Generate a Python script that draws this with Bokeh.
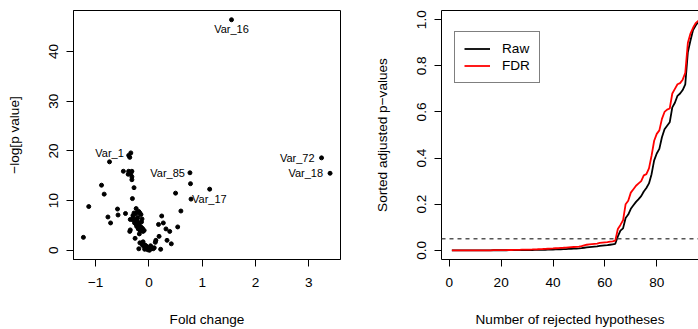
from bokeh.plotting import figure
from bokeh.models import (Range1d, FixedTicker, ColumnDataSource, Span, Legend,
                          LegendItem, LinearAxis, PrintfTickFormatter)
from bokeh.layouts import row
from bokeh.core.properties import value
from bokeh.embed import file_html
from bokeh.resources import INLINE

FONT = "Liberation Sans"

# ---------------- data: volcano plot ----------------
fold_change = [
    1.55, 3.24, 3.40, 0.77, 0.79, -0.34,
    0.78, 1.14, 0.50, 0.60, 0.54, 0.24, 0.27, 0.18, 0.32, 0.39, 0.34, 0.42, 0.19, 0.13, 0.12, 0.22,
    -0.38, -0.36, -0.74, -0.48, -0.38, -0.32, -0.34, -0.39, -0.32, -0.32, -0.28, -0.31, -0.89, -0.84, -1.13, -1.23,
    -0.59, -0.58, -0.77, -0.72, -0.44, -0.24, -0.28, -0.22, -0.17, -0.15, -0.30, -0.35, -0.30, -0.25, -0.22, -0.20,
    -0.24, -0.18, -0.15, -0.12, -0.20, -0.16, -0.11, -0.35, -0.36, -0.26, -0.17, -0.19, -0.14, -0.10, -0.07, -0.05,
    -0.03, 0.00, 0.02, 0.05, -0.08, 0.08, -0.02, 0.01, -0.12, -0.21, -0.14, -0.27, -0.18, -0.09, 0.03, -0.04,
    -0.19, -0.13, -0.08, 0.10, -0.23, -0.17, -0.06, 0.04, -0.01, -0.26, -0.30, -0.11,
]
neg_log_p = [
    46.4, 18.6, 15.5, 15.6, 10.3, 19.6,
    13.4, 12.3, 11.5, 7.9, 4.7, 6.9, 5.5, 5.2, 4.3, 3.8, 2.0, 1.3, 2.8, 2.0, 1.6, 0.2,
    19.1, 18.7, 17.8, 15.9, 15.9, 15.9, 15.4, 15.3, 14.8, 14.2, 12.6, 10.4, 13.1, 11.3, 8.8, 2.6,
    8.3, 7.1, 6.7, 5.5, 7.4, 8.4, 7.5, 7.6, 7.5, 7.2, 7.0, 6.2, 6.1, 6.2, 6.0, 5.5,
    5.2, 5.0, 4.7, 4.4, 4.3, 3.9, 3.8, 4.1, 3.8, 2.4, 1.5, 0.3, 1.4, 1.2, 1.0, 0.8,
    0.6, 0.4, 0.2, 0.4, 0.6, 0.3, 0.1, 0.0, 1.0, 6.6, 5.7, 5.5, 3.3, 4.0, 0.9, 0.3,
    7.8, 6.3, 0.2, 0.5, 4.8, 4.1, 0.9, 0.7, 0.5, 7.3, 6.5, 1.7,
]
label_names = ["Var_16", "Var_72", "Var_18", "Var_85", "Var_17", "Var_1"]
label_index = [0, 1, 2, 3, 4, 5]

volcano_xticks = [-1, 0, 1, 2, 3]
volcano_yticks = [0, 10, 20, 30, 40]

# ---------------- data: adjusted p-values ----------------
raw_p = [
    0.0000, 0.0000, 0.0000, 0.0000, 0.0000, 0.0000, 0.0000, 0.0000, 0.0000, 0.0000,
    0.0000, 0.0000, 0.0000, 0.0000, 0.0000, 0.0000, 0.0001, 0.0001, 0.0001, 0.0001,
    0.0002, 0.0002, 0.0003, 0.0003, 0.0004, 0.0005, 0.0006, 0.0007, 0.0008, 0.0009,
    0.0010, 0.0012, 0.0014, 0.0016, 0.0018, 0.0020, 0.0023, 0.0026, 0.0029, 0.0032,
    0.0036, 0.0040, 0.0044, 0.0048, 0.0053, 0.0058, 0.0063, 0.0068, 0.0074, 0.0080,
    0.0090, 0.0110, 0.0130, 0.0140, 0.0150, 0.0160, 0.0170, 0.0190, 0.0200, 0.0210,
    0.0220, 0.0240, 0.0260, 0.0280,
    0.060, 0.085, 0.095, 0.140, 0.155, 0.180, 0.195, 0.210, 0.222, 0.235,
    0.255, 0.270, 0.290, 0.330, 0.390, 0.420, 0.440, 0.490, 0.525, 0.540,
    0.555, 0.620, 0.640, 0.670, 0.680, 0.695, 0.720, 0.860, 0.910, 0.955,
    0.975, 0.990, 0.993, 0.996, 0.998, 1.000,
]
fdr_p = [
    0.0000, 0.0000, 0.0000, 0.0000, 0.0000, 0.0000, 0.0000, 0.0000, 0.0000, 0.0000,
    0.0000, 0.0000, 0.0000, 0.0000, 0.0000, 0.0000, 0.0005, 0.0005, 0.0005, 0.0005,
    0.0008, 0.0009, 0.0011, 0.0012, 0.0015, 0.0018, 0.0021, 0.0024, 0.0027, 0.0030,
    0.0032, 0.0036, 0.0041, 0.0045, 0.0050, 0.0055, 0.0061, 0.0067, 0.0073, 0.0080,
    0.0088, 0.0095, 0.0102, 0.0109, 0.0117, 0.0126, 0.0134, 0.0142, 0.0150, 0.0160,
    0.0176, 0.0210, 0.0240, 0.0255, 0.0270, 0.0280, 0.0290, 0.0320, 0.0330, 0.0340,
    0.0350, 0.0375, 0.0390, 0.0420,
    0.092, 0.110, 0.130, 0.200, 0.215, 0.250, 0.265, 0.280, 0.290, 0.300,
    0.325, 0.330, 0.355, 0.410, 0.475, 0.505, 0.520, 0.570, 0.600, 0.610,
    0.615, 0.680, 0.700, 0.720, 0.725, 0.740, 0.770, 0.900, 0.940, 0.965,
    0.985, 0.995, 0.996, 0.997, 0.998, 1.000,
]
n_rejected = list(range(1, len(raw_p) + 1))
alpha_level = 0.05

pv_xticks = [0, 20, 40, 60, 80, 100]
pv_yticks = [0.0, 0.2, 0.4, 0.6, 0.8, 1.0]

TICK_FS = "13.6px"
TITLE_FS = "13.6px"


def style_axis(ax, label_standoff, title_standoff):
    ax.major_tick_in = 0
    ax.major_tick_out = 7
    ax.minor_tick_line_color = None
    ax.major_tick_line_color = "black"
    ax.axis_line_color = "black"
    ax.major_label_text_font = FONT
    ax.major_label_text_font_size = TICK_FS
    ax.major_label_text_color = "black"
    ax.axis_label_text_font = FONT
    ax.axis_label_text_font_size = TITLE_FS
    ax.axis_label_text_font_style = "normal"
    ax.axis_label_text_color = "black"
    ax.major_label_standoff = label_standoff
    ax.axis_label_standoff = title_standoff


# ---------------- left: volcano ----------------
p1 = figure(width=368, height=329, output_backend="svg", toolbar_location=None,
            x_range=Range1d(-1.416, 3.596), y_range=Range1d(-1.856, 48.26),
            min_border_left=73, min_border_right=28, min_border_top=10, min_border_bottom=70,
            x_axis_label="Fold change", y_axis_label="\u2212log[p value]")
p1.grid.visible = False
p1.outline_line_color = "black"
p1.outline_line_width = 1
p1.background_fill_color = "white"
p1.border_fill_color = "white"

p1.scatter(fold_change, neg_log_p, size=4, color="black", marker="circle")

lab_src = ColumnDataSource(dict(
    x=[fold_change[i] for i in label_index],
    y=[neg_log_p[i] for i in label_index],
    t=label_names,
    align=["center", "right", "right", "right", "left", "right"],
    dx=[0, -7, -7, -5, 1, -7],
    dy=[9, 0, 0, 0, 0, 0],
))
p1.text(x="x", y="y", text="t", source=lab_src, text_align="align",
        text_baseline="middle", x_offset="dx", y_offset="dy",
        text_font=value(FONT), text_font_size=value("11px"), text_color="black")

p1.xaxis.ticker = FixedTicker(ticks=volcano_xticks)
p1.xaxis.major_label_overrides = {-1: "\u22121"}
p1.yaxis.ticker = FixedTicker(ticks=volcano_yticks)
p1.yaxis.major_label_orientation = "parallel"
style_axis(p1.xaxis[0], 11, 22)
style_axis(p1.yaxis[0], 8, 25)

# ---------------- right: sorted adjusted p-values ----------------
p2 = figure(width=330, height=329, output_backend="svg", toolbar_location=None,
            x_range=Range1d(-3.0, 96.1), y_range=Range1d(-0.04, 1.04),
            min_border_left=73, min_border_right=0, min_border_top=10, min_border_bottom=70,
            x_axis_label="Number of rejected hypotheses",
            y_axis_label="Sorted adjusted p\u2212values")
p2.grid.visible = False
p2.outline_line_color = None
p2.background_fill_color = "white"
p2.border_fill_color = "white"

p2.add_layout(Span(location=alpha_level, dimension="width", line_color="#555555",
                   line_width=1.5, line_dash="4 4"))
r_raw = p2.line(n_rejected, raw_p, line_color="black", line_width=1.8)
r_fdr = p2.line(n_rejected, fdr_p, line_color="#FF0000", line_width=1.8)

p2.xaxis.ticker = FixedTicker(ticks=pv_xticks)
p2.yaxis.ticker = FixedTicker(ticks=pv_yticks)
p2.yaxis.formatter = PrintfTickFormatter(format="%.1f")
p2.yaxis.major_label_orientation = "parallel"
style_axis(p2.xaxis[0], 11, 22)
style_axis(p2.yaxis[0], 8, 25)

top_axis = LinearAxis(ticker=FixedTicker(ticks=[]), major_label_text_font_size="0px",
                      axis_line_color="black", major_tick_line_color=None,
                      minor_tick_line_color=None)
p2.add_layout(top_axis, "above")

legend = Legend(items=[LegendItem(label="Raw", renderers=[r_raw]),
                       LegendItem(label="FDR", renderers=[r_fdr])],
                location=(13, 176), border_line_color="black", border_line_width=1,
                background_fill_color="white", background_fill_alpha=1.0,
                padding=9, margin=0, spacing=2, glyph_width=26, glyph_height=15,
                label_height=15, label_standoff=12,
                label_text_font=FONT, label_text_font_size="13.6px",
                label_text_color="black")
p2.add_layout(legend, "center")

layout = row(p1, p2)
open("out.html", "w").write(file_html(layout, INLINE))
